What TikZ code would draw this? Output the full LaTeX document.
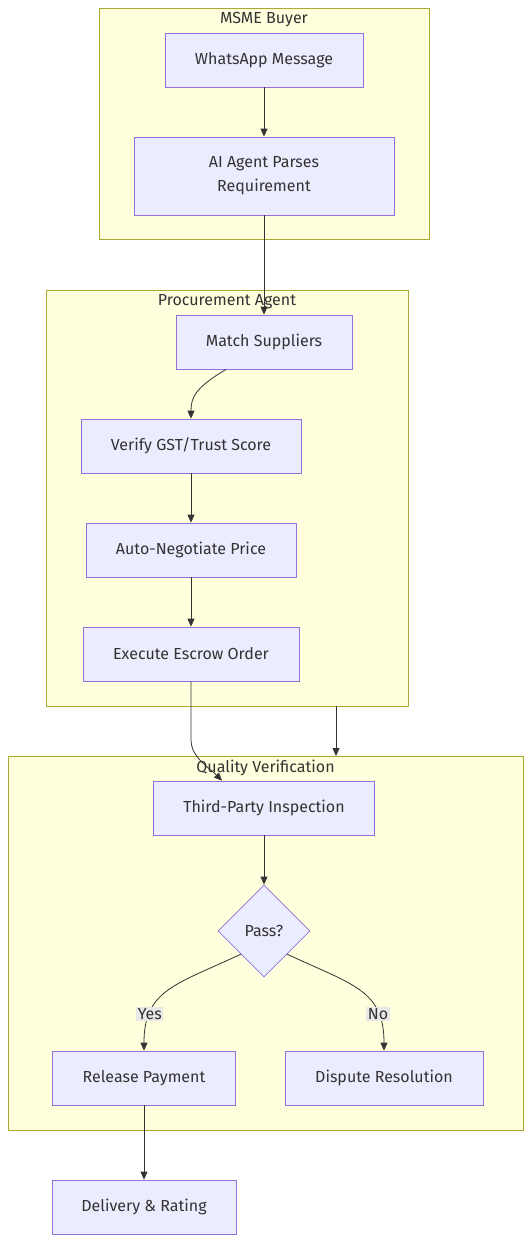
\documentclass[tikz,border=0pt]{standalone}
\usepackage{fontspec}
\setmainfont{Fira Sans}
\usepackage{xcolor}
\usetikzlibrary{shapes.geometric, arrows.meta, positioning}
\definecolor{clfill}{HTML}{FFFFDE}
\definecolor{cldraw}{HTML}{AAAA33}
\definecolor{ndfill}{HTML}{ECECFF}
\definecolor{nddraw}{HTML}{9370DB}
\definecolor{txt}{HTML}{333333}
\definecolor{lblfill}{HTML}{E8E8E8}
\tikzstyle{cluster} = [rectangle, draw=cldraw, fill=clfill, line width=0.8pt, inner sep=0pt]
\tikzstyle{title} = [text=txt, font=\fontsize{16}{24}\selectfont, inner sep=0pt]
\tikzstyle{block} = [rectangle, minimum height=54pt, text centered, draw=nddraw, fill=ndfill, line width=0.8pt, text=txt, font=\fontsize{16}{24}\selectfont, inner sep=0pt]
\tikzstyle{decision} = [diamond, aspect=1, minimum width=92pt, minimum height=92pt, inner sep=0pt, draw=nddraw, fill=ndfill, line width=0.8pt, text=txt, font=\fontsize{16}{24}\selectfont]
\tikzstyle{edgelabel} = [fill=lblfill, text=txt, font=\fontsize{16}{24}\selectfont, inner sep=1.5pt]
\tikzstyle{arrow} = [draw=txt, line width=0.8pt, -{Triangle[length=8pt,width=7pt]}]

\begin{document}
\begin{tikzpicture}[x=1pt, y=-1pt, node distance=104pt, on grid]
        \useasboundingbox (0,0) rectangle (532,1243);
        % clusters
        \node[cluster, minimum width=330pt, minimum height=231pt] (buyer) at (264,123.5) {};
        \node[title] (buyertitle) at (264,20) {MSME Buyer};
        \node[cluster, minimum width=362pt, minimum height=416pt] (procure) at (227,498) {};
        \node[title] (procuretitle) at (227,302) {Procurement Agent};
        \node[cluster, minimum width=515pt, minimum height=374pt] (quality) at (265.5,943) {};
        \node[title] (qualitytitle) at (265.5,768) {Quality Verification};

        \node[block, minimum width=198pt] (whatsapp) at (264,60) {WhatsApp Message};
        \node[block, minimum width=260pt, minimum height=78pt, align=center, below=116pt of whatsapp] (parse) {AI Agent Parses\\ Requirement};
        \node[block, minimum width=176pt, below=166pt of parse] (match) {Match Suppliers};
        \node[block, minimum width=220pt] (verify) at (191,446) {Verify GST/Trust Score};
        \node[block, minimum width=210pt, below=of verify] (negotiate) {Auto-Negotiate Price};
        \node[block, minimum width=216pt, below=of negotiate] (escrow) {Execute Escrow Order};
        \node[block, minimum width=221pt] (inspect) at (264,808) {Third-Party Inspection};
        \node[decision, below=123pt of inspect] (pass) {Pass?};
        \node[block, minimum width=183pt] (release) at (144,1078) {Release Payment};
        \node[block, minimum width=198pt] (dispute) at (384,1078) {Dispute Resolution};
        \node[block, minimum width=184pt, below=129pt of release] (delivery) {Delivery \& Rating};
        \coordinate (qin) at (336,756);

        \draw[arrow] (whatsapp) -- (parse);
        \draw[arrow] (parse) -- (match);
        \draw[arrow] ([xshift=-38pt]match.south) .. controls +(-30,18) and +(0,-22) .. (verify.north);
        \draw[arrow] (verify) -- (negotiate);
        \draw[arrow] (negotiate) -- (escrow);
        \draw[arrow] (escrow.south) -- ++(0,58) .. controls +(0,18) and +(-14,-14) .. ([xshift=-42pt]inspect.north);
        \draw[arrow] (procure.south -| qin) -- (qin);
        \draw[arrow] (inspect) -- (pass);
        \draw[arrow] (pass.south west) .. controls (175,985) and (144,990) .. (release.north) node[edgelabel, pos=0.75] (yes) {Yes};
        \draw[arrow] (pass.south east) .. controls (353,985) and (384,990) .. (dispute.north) node[edgelabel, pos=0.75] (no) {No};
        \draw[arrow] (release) -- (delivery);
    \end{tikzpicture}
\end{document}
